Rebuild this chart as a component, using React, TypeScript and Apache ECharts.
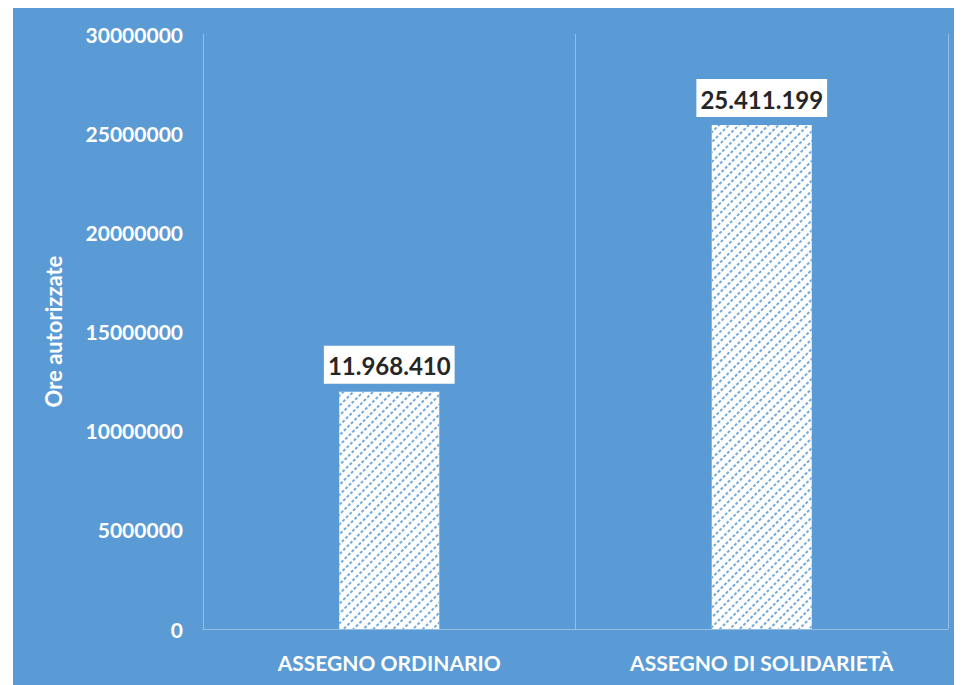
import React, { useEffect, useRef } from "react";
import * as echarts from "echarts";

const categories = ["ASSEGNO ORDINARIO", "ASSEGNO DI SOLIDARIETÀ"];
const values = [11968410, 25411199];
const yAxisName = "Ore autorizzate";
const yMin = 0;
const yMax = 30000000;
const yInterval = 5000000;

function formatIt(n: number): string {
  const s = Math.round(n).toString();
  return s.replace(/\B(?=(\d{3})+(?!\d))/g, ".");
}

export default function App() {
  const ref = useRef<HTMLDivElement>(null);
  useEffect(() => {
    if (!ref.current) return;
    const chart = echarts.init(ref.current, undefined, { renderer: "svg" });
    const font = "Lato, 'Open Sans', sans-serif";
    chart.setOption({
      animation: false,
      backgroundColor: "#5B9BD5",
      grid: { left: 190, right: 14, top: 26, bottom: 56 },
      xAxis: {
        type: "category",
        data: categories,
        axisLine: { show: true, lineStyle: { color: "rgba(255,255,255,0.35)", width: 1 } },
        axisTick: { show: false },
        splitLine: { show: true, interval: 0, lineStyle: { color: "rgba(255,255,255,0.35)", width: 1 } },
        axisLabel: {
          color: "#ffffff",
          fontWeight: "bold",
          fontSize: 21,
          fontFamily: font,
          margin: 23,
          interval: 0,
        },
      },
      yAxis: {
        type: "value",
        min: yMin,
        max: yMax,
        interval: yInterval,
        name: yAxisName,
        nameLocation: "middle",
        nameGap: 139,
        nameRotate: 90,
        nameTextStyle: { color: "#ffffff", fontWeight: "bold", fontSize: 22, fontFamily: font },
        axisLine: { show: false },
        axisTick: { show: false },
        splitLine: { show: false },
        axisLabel: {
          color: "#ffffff",
          fontWeight: "bold",
          fontSize: 21,
          fontFamily: font,
          margin: 20,
          formatter: (v: number) => String(v),
        },
      },
      series: [
        {
          type: "bar",
          data: values,
          barWidth: 100,
          itemStyle: {
            color: "#ffffff",
            decal: {
              symbol: "rect",
              color: "rgba(91,155,213,0.85)",
              dashArrayX: [3, 2],
              dashArrayY: [2, 5],
              rotation: -Math.PI / 4,
            },
          },
          label: {
            show: true,
            position: "top",
            distance: 8,
            formatter: (p: any) => formatIt(p.value),
            color: "#262626",
            fontWeight: "bold",
            fontSize: 24,
            fontFamily: font,
            backgroundColor: "#ffffff",
            padding: [8, 4, 6, 4],
          },
        },
      ],
    });
    return () => chart.dispose();
  }, []);
  return (
    <div
      ref={ref}
      style={{ width: 949, height: 677, marginLeft: 5 }}
    />
  );
}
